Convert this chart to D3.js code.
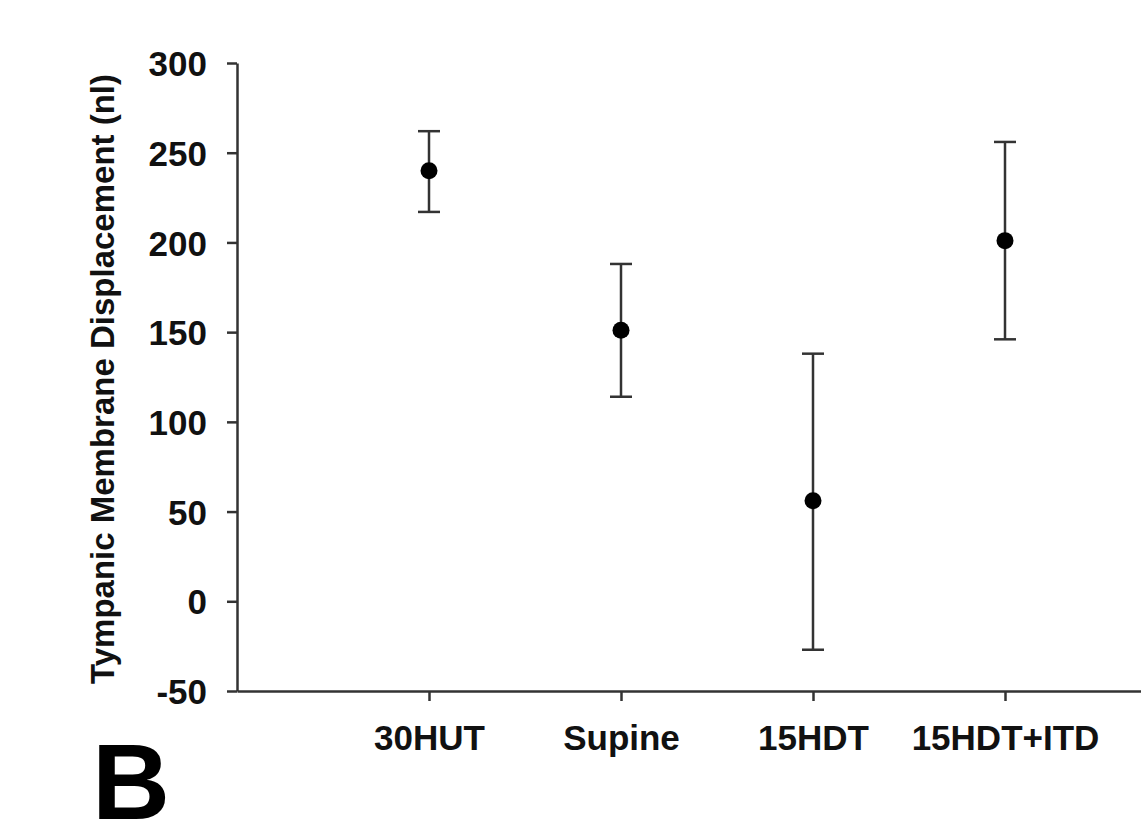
<!DOCTYPE html>
<html>
<head>
<meta charset="utf-8">
<script src="https://cdn.jsdelivr.net/npm/d3@7"></script>
<style>
  body { margin: 0; background: #fff; }
  svg { display: block; font-family: "Liberation Sans", Arial, sans-serif; }
  .axis path, .axis line { stroke: #333; stroke-width: 2.5px; }
  .axis text { fill: #111; font-weight: bold; }
</style>
</head>
<body>
<svg width="1141" height="820"></svg>
<script>
// positions
var categories = ["30HUT", "Supine", "15HDT", "15HDT+ITD"];
var means = [240, 151, 56, 201];
var upper = [262, 188, 138, 256];
var lower = [217, 114, -27, 146];
var yTicks = [-50, 0, 50, 100, 150, 200, 250, 300];

var svg = d3.select("svg");

var x = d3.scalePoint()
    .domain(categories)
    .range([237, 1197])
    .padding(1);

var y = d3.scaleLinear()
    .domain([-50, 300])
    .range([691, 63]);

var yAxis = d3.axisLeft(y)
    .tickValues(yTicks)
    .tickFormat(function(d) { return String(d); })
    .tickSize(10)
    .tickSizeOuter(0)
    .tickPadding(20);

var xAxis = d3.axisBottom(x)
    .tickSize(10)
    .tickSizeOuter(0)
    .tickPadding(24);

var gy = svg.append("g")
    .attr("class", "axis axis--y")
    .attr("transform", "translate(237,0)")
    .call(yAxis);
gy.selectAll("text").style("font-size", "35px").attr("dy", "0.36em");

var gx = svg.append("g")
    .attr("class", "axis axis--x")
    .attr("transform", "translate(0,691)")
    .call(xAxis);
gx.selectAll("text").style("font-size", "35px");

var data = categories.map(function(c, i) {
    return { cat: c, mean: means[i], hi: upper[i], lo: lower[i] };
});

var bars = svg.append("g").attr("class", "errorbars");

bars.selectAll("line.stem")
    .data(data)
    .enter().append("line")
    .attr("class", "stem")
    .attr("x1", function(d) { return x(d.cat); })
    .attr("x2", function(d) { return x(d.cat); })
    .attr("y1", function(d) { return y(d.hi); })
    .attr("y2", function(d) { return y(d.lo); })
    .style("stroke", "#333")
    .style("stroke-width", 2.5);

["hi", "lo"].forEach(function(k) {
    bars.selectAll("line.cap-" + k)
        .data(data)
        .enter().append("line")
        .attr("class", "cap-" + k)
        .attr("x1", function(d) { return x(d.cat) - 11; })
        .attr("x2", function(d) { return x(d.cat) + 11; })
        .attr("y1", function(d) { return y(d[k]); })
        .attr("y2", function(d) { return y(d[k]); })
        .style("stroke", "#333")
        .style("stroke-width", 2.5);
});

svg.append("g").selectAll("circle")
    .data(data)
    .enter().append("circle")
    .attr("cx", function(d) { return x(d.cat); })
    .attr("cy", function(d) { return y(d.mean); })
    .attr("r", 8.5)
    .style("fill", "#000");

svg.append("text")
    .attr("transform", "translate(114," + ((63 + 691) / 2 + 2) + ") rotate(-90)")
    .attr("text-anchor", "middle")
    .style("font-size", "33px")
    .style("font-weight", "bold")
    .style("fill", "#111")
    .text("Tympanic Membrane Displacement (nl)");

svg.append("text")
    .attr("x", 92)
    .attr("y", 819)
    .style("font-size", "108px")
    .style("font-weight", "bold")
    .style("fill", "#000")
    .text("B");
</script>
</body>
</html>
